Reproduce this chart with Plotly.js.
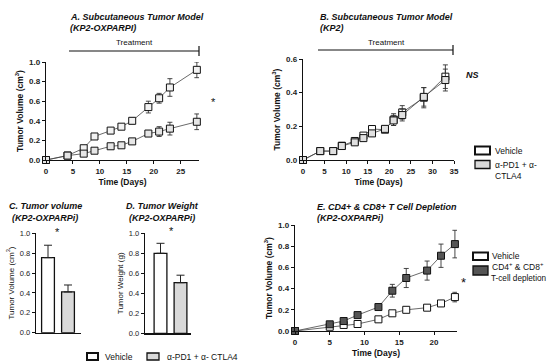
<!DOCTYPE html>
<html><head><meta charset="utf-8">
<script src="https://cdn.plot.ly/plotly-3.0.1.min.js"></script>
<style>html,body{margin:0;padding:0;background:#fff}#c{width:547px;height:362px}</style>
</head><body><div id="c"></div>
<script>
// ---- data ----
const daysA = [0,4,7,9,12,14,16,19,21,23,28];
const vehA = [0,0.045,0.12,0.24,0.30,0.34,0.40,0.54,0.63,0.74,0.92];
const vehAerr = [0,0.01,0.02,0.02,0.02,0.02,0.03,0.06,0.05,0.09,0.08];
const trtA = [0,0.045,0.065,0.095,0.14,0.15,0.19,0.27,0.29,0.32,0.39];
const trtAerr = [0,0.01,0.01,0.01,0.01,0.01,0.02,0.03,0.05,0.065,0.08];

const daysB = [0,4,7,9,12,14,16,19,21,23,28,33];
const vehB = [0,0.053,0.053,0.085,0.113,0.145,0.184,0.18,0.24,0.283,0.37,0.495];
const vehBerr = [0,0.005,0.005,0.008,0.01,0.01,0.01,0.015,0.035,0.04,0.06,0.07];
const trtB = [0,0.053,0.053,0.083,0.105,0.13,0.158,0.185,0.235,0.267,0.375,0.475];
const trtBerr = [0,0.005,0.005,0.008,0.01,0.01,0.01,0.015,0.03,0.035,0.055,0.065];

const barGroups = ['Vehicle','α-PD1 + α- CTLA4'];
const volC = [0.755,0.41];
const volCerr = [0.125,0.07];
const wtD = [0.80,0.506];
const wtDerr = [0.10,0.075];

const daysE = [0,5,7,9,12,14,16,19,21,23];
const vehE = [0,0.04,0.057,0.066,0.11,0.167,0.20,0.22,0.26,0.32];
const vehEerr = [0,0.005,0.005,0.01,0.01,0.015,0.02,0.02,0.025,0.045];
const depE = [0,0.063,0.094,0.15,0.226,0.38,0.50,0.57,0.71,0.82];
const depEerr = [0,0.01,0.01,0.015,0.02,0.06,0.09,0.09,0.11,0.13];

// ---- helpers ----
const W = 547, H = 362;
const px = x => x / W, py = y => 1 - y / H;
const FONT = 'Liberation Sans, Arial, sans-serif';
const lineC = '#444';

function lineTrace(x, y, e, fill, xa, ya, size) {
  return {
    type: 'scatter', mode: 'lines+markers', x: x, y: y, xaxis: xa, yaxis: ya,
    line: {color: lineC, width: 0.8},
    marker: {symbol: 'square', size: size, color: fill, line: {color: '#111', width: 1}},
    error_y: {type: 'data', array: e, visible: true, color: '#333', thickness: 0.9, width: 2.5},
    cliponaxis: false, showlegend: false
  };
}
function barTrace(y, e, xa, ya) {
  return {
    type: 'bar', x: [0, 1], y: y, xaxis: xa, yaxis: ya, width: 0.64,
    marker: {color: ['#ffffff', '#d9d9d9'], line: {color: '#111', width: 1.3}},
    error_y: {type: 'data', symmetric: false, array: e, arrayminus: [0, 0], visible: true,
              color: '#222', thickness: 1, width: 4},
    showlegend: false
  };
}

const data = [
  lineTrace(daysA, vehA, vehAerr, '#f2f2f2', 'x', 'y', 7),
  lineTrace(daysA, trtA, trtAerr, '#e6e6e6', 'x', 'y', 7),
  lineTrace(daysB, vehB, vehBerr, '#ffffff', 'x2', 'y2', 7),
  lineTrace(daysB, trtB, trtBerr, '#e0e0e0', 'x2', 'y2', 7),
  barTrace(volC, volCerr, 'x3', 'y3'),
  barTrace(wtD, wtDerr, 'x4', 'y4'),
  lineTrace(daysE, vehE, vehEerr, '#ffffff', 'x5', 'y5', 7),
  lineTrace(daysE, depE, depEerr, '#555555', 'x5', 'y5', 7)
];

function ax(domain, range, extra) {
  return Object.assign({
    domain: domain, range: range, showgrid: false, zeroline: false,
    showline: true, linecolor: '#111', linewidth: 1.2,
    ticks: 'outside', ticklen: 3, tickwidth: 1, tickcolor: '#111',
    tickfont: {family: FONT, size: 8, color: '#222', weight: 'bold'},
    automargin: false, fixedrange: true
  }, extra || {});
}
const tfont = {family: FONT, size: 8.5, color: '#111', weight: 'bold'};

const layout = {
  width: W, height: H, margin: {l: 0, r: 0, t: 0, b: 0},
  paper_bgcolor: '#fff', plot_bgcolor: 'rgba(0,0,0,0)', showlegend: false,
  font: {family: FONT},
  // A
  xaxis: ax([px(46), px(199)], [0, 28.4], {anchor: 'y', tickvals: [0,5,10,15,20,25],
          title: {text: 'Time (Days)', font: tfont, standoff: 4}}),
  yaxis: ax([py(160), py(62)], [0, 1.0], {anchor: 'x', tickvals: [0,0.2,0.4,0.6,0.8,1.0], tickformat: '.1f',
          title: {text: 'Tumor Volume (cm<sup>3</sup>)', font: tfont, standoff: 4}}),
  // B
  xaxis2: ax([px(303), px(454)], [0, 35], {anchor: 'y2', tickvals: [0,5,10,15,20,25,30,35],
          title: {text: 'Time (Days)', font: tfont, standoff: 4}}),
  yaxis2: ax([py(160), py(59)], [0, 0.6], {anchor: 'x2', tickvals: [0,0.2,0.4,0.6], tickformat: '.1f',
          title: {text: 'Tumor Volume (cm<sup>3</sup>)', font: tfont, standoff: 4}}),
  // C
  xaxis3: ax([px(36), px(81)], [-0.6, 1.65], {anchor: 'y3', showticklabels: false, ticks: ''}),
  yaxis3: ax([py(332.7), py(233.3)], [0, 1.0], {anchor: 'x3', tickvals: [0,0.2,0.4,0.6,0.8,1.0], tickformat: '.1f',
          tickfont: {family: FONT, size: 7.5, color: '#222'},
          title: {text: 'Tumor Volume (cm<sup>3</sup>)', font: {family: FONT, size: 8, color: '#111'}, standoff: 4}}),
  // D
  xaxis4: ax([px(145), px(190.5)], [-0.775, 1.5], {anchor: 'y4', showticklabels: false, ticks: ''}),
  yaxis4: ax([py(333.3), py(233.3)], [0, 1.0], {anchor: 'x4', tickvals: [0,0.2,0.4,0.6,0.8,1.0], tickformat: '.1f',
          tickfont: {family: FONT, size: 7.5, color: '#222'},
          title: {text: 'Tumor Weight (g)', font: {family: FONT, size: 8, color: '#111'}, standoff: 4}}),
  // E
  xaxis5: ax([px(295), px(457)], [0, 23.3], {anchor: 'y5', tickvals: [0,5,10,15,20],
          title: {text: 'Time (Days)', font: tfont, standoff: 4}}),
  yaxis5: ax([py(331), py(225)], [0, 1.0], {anchor: 'x5', tickvals: [0,0.2,0.4,0.6,0.8,1.0], tickformat: '.1f',
          title: {text: 'Tumor Volume (cm<sup>3</sup>)', font: tfont, standoff: 4}}),
  shapes: [],
  annotations: []
};

const S = layout.shapes, A = layout.annotations;
function txt(x, y, t, o) {
  A.push(Object.assign({xref: 'paper', yref: 'paper', x: px(x), y: py(y), text: t, showarrow: false,
    xanchor: 'left', yanchor: 'middle', font: {family: FONT, size: 8.5, color: '#111'}}, o || {}));
}
function seg(x0, y0, x1, y1, w) {
  S.push({type: 'line', xref: 'paper', yref: 'paper', x0: px(x0), y0: py(y0), x1: px(x1), y1: py(y1),
    line: {color: '#111', width: w || 1.2}});
}
function box(x0, y0, x1, y1, fill, w) {
  S.push({type: 'rect', xref: 'paper', yref: 'paper', x0: px(x0), y0: py(y0), x1: px(x1), y1: py(y1),
    fillcolor: fill, line: {color: '#111', width: w || 1.5}});
}
const titleFont = {family: FONT, size: 9, color: '#111', weight: 'bold', style: 'italic'};
const legE = {family: FONT, size: 8.5, color: '#111'};

// Titles
txt(68, 17, 'A. Subcutaneous Tumor Model', {font: titleFont});
txt(68, 28, '(KP2-OXPARPI)', {font: titleFont});
txt(318, 17, 'B. Subcutaneous Tumor Model', {font: titleFont});
txt(318, 28, '(KP2)', {font: titleFont});
txt(45, 206, 'C. Tumor volume', {font: titleFont, xanchor: 'center'});
txt(45, 218, '(KP2-OXPARPi)', {font: titleFont, xanchor: 'center'});
txt(162, 206, 'D. Tumor Weight', {font: titleFont, xanchor: 'center'});
txt(162, 218, '(KP2-OXPARPi)', {font: titleFont, xanchor: 'center'});
txt(315, 207, 'E. CD4+ &amp; CD8+ T Cell Depletion', {font: titleFont});
txt(315, 218, '(KP2-OXPARPi)', {font: titleFont});

// Treatment bars
txt(134, 43, 'Treatment', {xanchor: 'center', font: {family: FONT, size: 8, color: '#111'}});
seg(69, 51, 199, 51); seg(199, 46, 199, 56);
txt(386, 42, 'Treatment', {xanchor: 'center', font: {family: FONT, size: 8, color: '#111'}});
seg(318, 50, 453, 50); seg(453, 45, 453, 55);

// significance marks
txt(213, 102, '*', {xanchor: 'center', font: {family: FONT, size: 11, color: '#111'}});
txt(464, 75, 'NS', {xanchor: 'left', font: {family: FONT, size: 9, color: '#111', style: 'italic', weight: 'bold'}});
txt(58, 232, '*', {xanchor: 'center', font: {family: FONT, size: 11, color: '#111'}});
txt(171, 231, '*', {xanchor: 'center', font: {family: FONT, size: 11, color: '#111'}});
txt(463, 282, '*', {xanchor: 'center', font: {family: FONT, size: 13, color: '#111'}});

// Legend B
box(475, 146.5, 490, 154.5, '#ffffff', 2);
txt(493, 151, 'Vehicle');
box(475, 160.5, 490, 168.5, '#d9d9d9', 1.3);
txt(493, 165, 'α-PD1 + α-');
txt(493, 176, 'CTLA4');

// Legend C/D
box(87, 353, 98, 360, '#ffffff', 2);
txt(103, 356.5, barGroups[0]);
box(147, 353, 159, 360, '#d9d9d9', 1.3);
txt(165, 356.5, barGroups[1]);

// Legend E
box(473, 252.5, 488, 260, '#ffffff', 2);
txt(490, 255.5, 'Vehicle', {font: legE});
box(473, 266, 488, 275, '#555555', 1.3);
txt(490, 266.5, 'CD4<sup>+</sup> &amp; CD8<sup>+</sup>', {font: legE});
txt(489, 278, 'T-cell depletion', {font: {family: FONT, size: 8.2, color: '#111'}});

Plotly.newPlot('c', data, layout, {staticPlot: true, displayModeBar: false});
</script>
</body></html>
